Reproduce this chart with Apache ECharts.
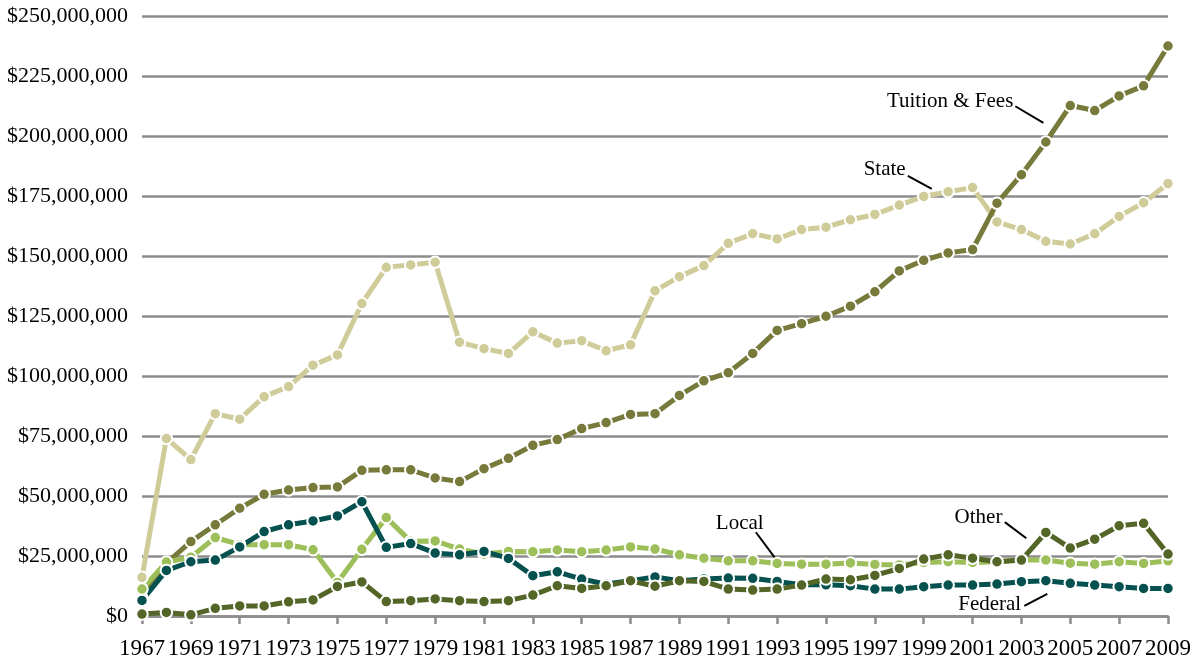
<!DOCTYPE html>
<html>
<head>
    <meta charset="utf-8" />
    <title>Revenue by source, 1967-2009</title>
    <script type="text/javascript" src="https://cdn.jsdelivr.net/npm/echarts@6/dist/echarts.min.js"></script>
    <style>
        html, body { margin: 0; padding: 0; background: #fff; }
    </style>
</head>
<body>
<div id="main" style="width: 1194px;height:660px;"></div>
<script type="text/javascript">
    // years on the x axis
    var years = [];
    for (var y = 1967; y <= 2009; y++) years.push(String(y));

    // values in millions of dollars
    var state = [16.1, 74, 65.2, 84.3, 82, 91.4, 95.6, 104.5, 108.8, 130.2, 145.3, 146.3, 147.4, 114.1, 111.4,
        109.4, 118.4, 113.7, 114.7, 110.5, 113, 135.5, 141.4, 146, 155.3, 159.3, 157.1, 161, 162, 165.1, 167.3,
        171.2, 174.8, 176.8, 178.5, 164.2, 161, 156.1, 155, 159.3, 166.5, 172.2, 180.2];
    var tuition = [7.5, 22, 31, 38, 44.9, 50.7, 52.5, 53.5, 53.8, 60.7, 60.9, 60.9, 57.5, 56, 61.4,
        65.7, 71.1, 73.5, 78.1, 80.6, 84, 84.3, 91.9, 98, 101.4, 109.4, 119, 121.8, 124.9, 129.1, 135.1,
        143.8, 148.2, 151.3, 152.7, 172, 183.9, 197.5, 212.7, 210.6, 216.7, 220.9, 237.5];
    var local = [11.2, 22.5, 24.5, 32.7, 29.7, 29.7, 29.7, 27.6, 14, 27.8, 41, 31.1, 31.3, 27.9, 25.8,
        26.9, 26.8, 27.5, 26.8, 27.5, 28.8, 27.9, 25.5, 24.1, 23, 23, 21.9, 21.6, 21.6, 22.1, 21.5,
        21.3, 22.3, 22.6, 22.3, 22.6, 23.3, 23.3, 22, 21.6, 22.6, 21.9, 23];
    var federal = [6.5, 19, 22.6, 23.3, 28.8, 35.2, 38, 39.6, 41.7, 47.6, 28.6, 30.2, 26.2, 25.5, 26.9,
        24, 16.8, 18.4, 15.4, 13.3, 14.7, 16.3, 14.7, 15.4, 15.8, 15.7, 14.4, 13, 13, 12.6, 11.2,
        11.2, 12.2, 12.9, 12.9, 13.3, 14.3, 14.7, 13.6, 12.9, 12.2, 11.5, 11.5];
    var other = [0.8, 1.5, 0.5, 3.2, 4.2, 4.2, 5.9, 6.7, 12.3, 14.2, 6, 6.4, 7.1, 6.4, 6,
        6.4, 8.7, 12.6, 11.5, 12.6, 14.7, 12.4, 14.7, 14.4, 11.2, 10.8, 11.2, 12.9, 15.4, 15.1, 16.9,
        19.8, 23.7, 25.5, 24.1, 22.6, 23.3, 34.8, 28.3, 32, 37.6, 38.6, 25.8];

    // labels placed next to the lines, in data units [year, millions]
    var notes = [
        {text: 'Tuition & Fees', at: [2002.67, 214.2], align: 'right', line: [[2002.75, 212.4], [2003.9, 205.5]]},
        {text: 'State', at: [1998.26, 186.1], align: 'right', line: [[1998.35, 183.4], [1999.33, 178.0]]},
        {text: 'Local', at: [1991.47, 38.7], align: 'center', line: [[1992.13, 34.9], [1992.98, 23.3]]},
        {text: 'Other', at: [2002.22, 41.0], align: 'right', line: [[2002.32, 39.1], [2003.2, 32.4]]},
        {text: 'Federal', at: [2002.99, 4.6], align: 'right', line: [[2003.12, 4.2], [2004.06, 9.2]]}
    ];

    var serif = '"Liberation Serif", "Times New Roman", serif';
    var gridGray = '#8c8c8c';

    function lineSeries(name, data, color) {
        return {
            name: name,
            type: 'line',
            data: data,
            symbol: 'circle',
            symbolSize: 11.5,
            showAllSymbol: true,
            lineStyle: {color: color, width: 5},
            itemStyle: {color: color, borderColor: '#fff', borderWidth: 2},
            emphasis: {disabled: true}
        };
    }

    var myChart = echarts.init(document.getElementById('main'));
    var option = {
        animation: false,
        backgroundColor: '#fff',
        grid: {left: 142, right: 24, top: 16, bottom: 43},
        xAxis: {
            type: 'category',
            data: years,
            boundaryGap: false,
            axisLine: {show: true, lineStyle: {color: gridGray, width: 2.5}},
            axisTick: {show: true, interval: 1, length: 8, lineStyle: {color: gridGray, width: 2.5}},
            axisLabel: {interval: 1, color: '#000', fontFamily: serif, fontSize: 23, margin: 21}
        },
        yAxis: {
            type: 'value',
            min: 0,
            max: 250,
            interval: 25,
            axisLine: {show: false},
            axisTick: {show: false},
            splitLine: {lineStyle: {color: gridGray, width: 2.5}},
            axisLabel: {
                color: '#000', fontFamily: serif, fontSize: 22, margin: 14,
                formatter: function (v) {
                    return '$' + (v * 1e6).toLocaleString('en-US');
                }
            }
        },
        series: [
            lineSeries('State', state, '#cfcc9a'),
            lineSeries('Tuition & Fees', tuition, '#777a3b'),
            lineSeries('Local', local, '#9dbf5a'),
            lineSeries('Federal', federal, '#055150'),
            lineSeries('Other', other, '#536527')
        ]
    };
    myChart.setOption(option);

    // year/value -> pixel, interpolating between category positions
    function toPx(year, val) {
        var a = myChart.convertToPixel({gridIndex: 0}, [0, val]);
        var b = myChart.convertToPixel({gridIndex: 0}, [years.length - 1, val]);
        return [a[0] + (b[0] - a[0]) * (year - 1967) / (years.length - 1), a[1]];
    }

    var elements = [];
    notes.forEach(function (n) {
        var p = toPx(n.at[0], n.at[1]);
        var p1 = toPx(n.line[0][0], n.line[0][1]);
        var p2 = toPx(n.line[1][0], n.line[1][1]);
        elements.push({
            type: 'text',
            x: p[0], y: p[1],
            style: {
                text: n.text, fill: '#000', font: '21px ' + serif,
                textAlign: n.align, textVerticalAlign: 'middle',
                align: n.align, verticalAlign: 'middle'
            }
        });
        elements.push({
            type: 'line',
            shape: {x1: p1[0], y1: p1[1], x2: p2[0], y2: p2[1]},
            style: {stroke: '#000', lineWidth: 2}
        });
    });
    myChart.setOption({graphic: {elements: elements}});
</script>
</body>
</html>
